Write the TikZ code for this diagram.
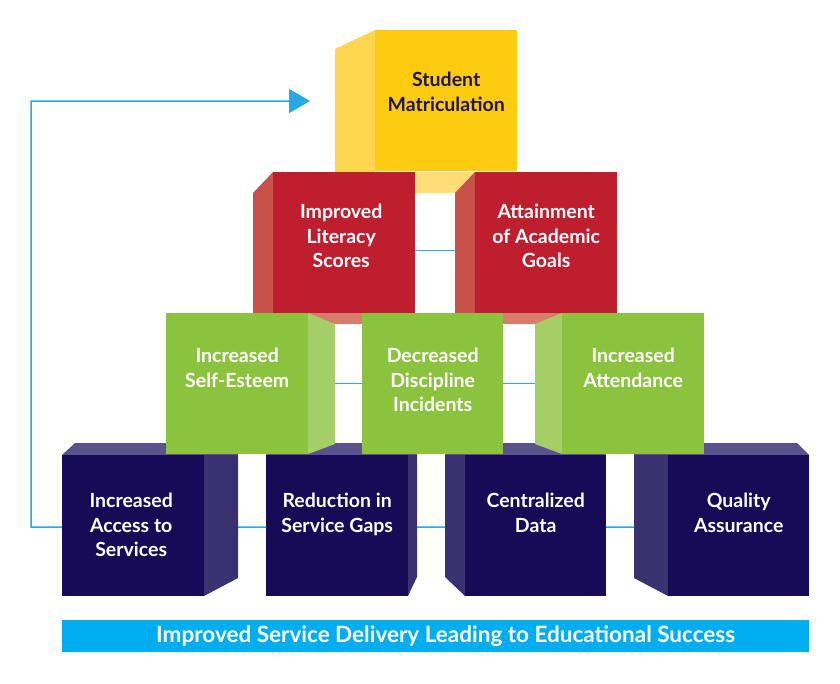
\documentclass[tikz,border=0pt]{standalone}
\usepackage{fontspec}
\setmainfont{Lato}
\usetikzlibrary{arrows.meta,positioning,backgrounds}
\definecolor{yfront}{HTML}{FDCB0F}
\definecolor{yside}{HTML}{FFD650}
\definecolor{ybottom}{HTML}{FFDC78}
\definecolor{rfront}{HTML}{BE1E2D}
\definecolor{rside}{HTML}{C8514A}
\definecolor{rbottom}{HTML}{D87C6C}
\definecolor{gfront}{HTML}{8BC33F}
\definecolor{gside}{HTML}{A4CF66}
\definecolor{nfront}{HTML}{170A56}
\definecolor{nside}{HTML}{3A3270}
\definecolor{ntop}{HTML}{5A528D}
\definecolor{cyanbar}{HTML}{00AEEF}
\definecolor{linkblue}{HTML}{27AAE1}
\definecolor{navytext}{HTML}{1E1456}

\begin{document}
\begin{tikzpicture}[x=1pt,y=-1pt]
    \tikzset{face/.style = {shape=rectangle,inner sep=0pt,anchor=north west,minimum width=142pt,minimum height=141pt}}
    \tikzset{txt/.style = {inner sep=0pt,align=center,text=white,font=\fontsize{19.5}{24.5}\selectfont\bfseries}}
    \tikzset{link/.style = {draw=linkblue,line width=1.5pt}}
    \useasboundingbox (0,0) rectangle (840,683);
    % top block
    \fill[yside] (335,49) -- (375,30) -- (375,172) -- (335,172) -- cycle;
    \fill[ybottom] (335,172) -- (517,172) -- (497,193) -- (335,193) -- cycle;
    \node[face,fill=yfront] (matric) at (375,30) {};
    % second row
    \fill[rside] (253,193) -- (273,172) -- (273,313) -- (253,324) -- cycle;
    \fill[rbottom] (253,313) -- (415,313) -- (415,324) -- (253,324) -- cycle;
    \node[face,fill=rfront] (lit) at (273,172) {};
    \fill[rside] (455,193) -- (475,172) -- (475,313) -- (455,324) -- cycle;
    \fill[rbottom] (455,313) -- (617,313) -- (617,324) -- (455,324) -- cycle;
    \node[face,fill=rfront] (goals) at (475,172) {};
    % bottom row
    \fill[ntop] (62,455) -- (75,443) -- (238,443) -- (238,455) -- cycle;
    \fill[nside] (204,455) -- (238,455) -- (238,578) -- (204,596) -- cycle;
    \node[face,fill=nfront] (access) at (62,455) {};
    \fill[ntop] (266,455) -- (272,443) -- (417,443) -- (417,455) -- cycle;
    \fill[nside] (408,455) -- (417,455) -- (417,577) -- (408,596) -- cycle;
    \node[face,fill=nfront] (gaps) at (266,455) {};
    \fill[ntop] (445,455) -- (445,443) -- (600,443) -- (606,455) -- cycle;
    \fill[nside] (445,455) -- (465,455) -- (465,596) -- (445,577) -- cycle;
    \node[face,fill=nfront,minimum width=141pt] (data) at (465,455) {};
    \fill[ntop] (634,455) -- (634,443) -- (797,443) -- (809,455) -- cycle;
    \fill[nside] (634,455) -- (668,455) -- (668,596) -- (634,578) -- cycle;
    \node[face,fill=nfront,minimum width=141pt] (quality) at (668,455) {};
    % third row
    \fill[gside] (308,313) -- (335,324) -- (335,444) -- (308,454) -- cycle;
    \node[face,fill=gfront] (esteem) at (166,313) {};
    \node[face,fill=gfront,minimum width=141pt] (discip) at (362,313) {};
    \fill[gside] (535,324) -- (562,313) -- (562,454) -- (535,444) -- cycle;
    \node[face,fill=gfront] (attend) at (562,313) {};
    % texts
    \node[txt,text=navytext,below=42pt of matric.north] (matric-t) {Student\\Matriculation};
    \node[txt,below=32pt of lit.north,xshift=-3pt] (lit-t) {Improved\\Literacy\\Scores};
    \node[txt,below=32pt of goals.north] (goals-t) {Attainment\\of Academic\\Goals};
    \node[txt,below=35pt of esteem.north] (esteem-t) {Increased\\Self-Esteem};
    \node[txt,below=35pt of discip.north] (discip-t) {Decreased\\Discipline\\Incidents};
    \node[txt,below=35pt of attend.north] (attend-t) {Increased\\Attendance};
    \node[txt,below=38pt of access.north,xshift=-2pt] (access-t) {Increased\\Access to\\Services};
    \node[txt,below=38pt of gaps.north] (gaps-t) {Reduction in\\Service Gaps};
    \node[txt,below=38pt of data.north] (data-t) {Centralized\\Data};
    \node[txt,below=38pt of quality.north] (quality-t) {Quality\\Assurance};
    % banner
    \node[face,fill=cyanbar,minimum width=747pt,minimum height=32pt] (banner) at (62,620) {};
    \node[txt,font=\fontsize{22.5}{24}\selectfont\bfseries,right=94pt of banner.west] (banner-t) {Improved Service Delivery Leading to Educational Success};
    % connectors
    \coordinate (fb) at (31,527);
    \coordinate (fbend) at (310,101);
    \begin{pgfonlayer}{background}
        \fill[white] (0,0) rectangle (840,683);
        \draw[link] ([yshift=-8pt]lit.east) -- ([yshift=-8pt]goals.west);
        \draw[link] (esteem.east) -- (discip.west);
        \draw[link] (discip.east) -- (attend.west);
        \draw[link,-{Triangle[length=21pt,width=24pt]}] ([yshift=-1.5pt]quality.west) -- (fb) |- (fbend);
    \end{pgfonlayer}
\end{tikzpicture}
\end{document}
